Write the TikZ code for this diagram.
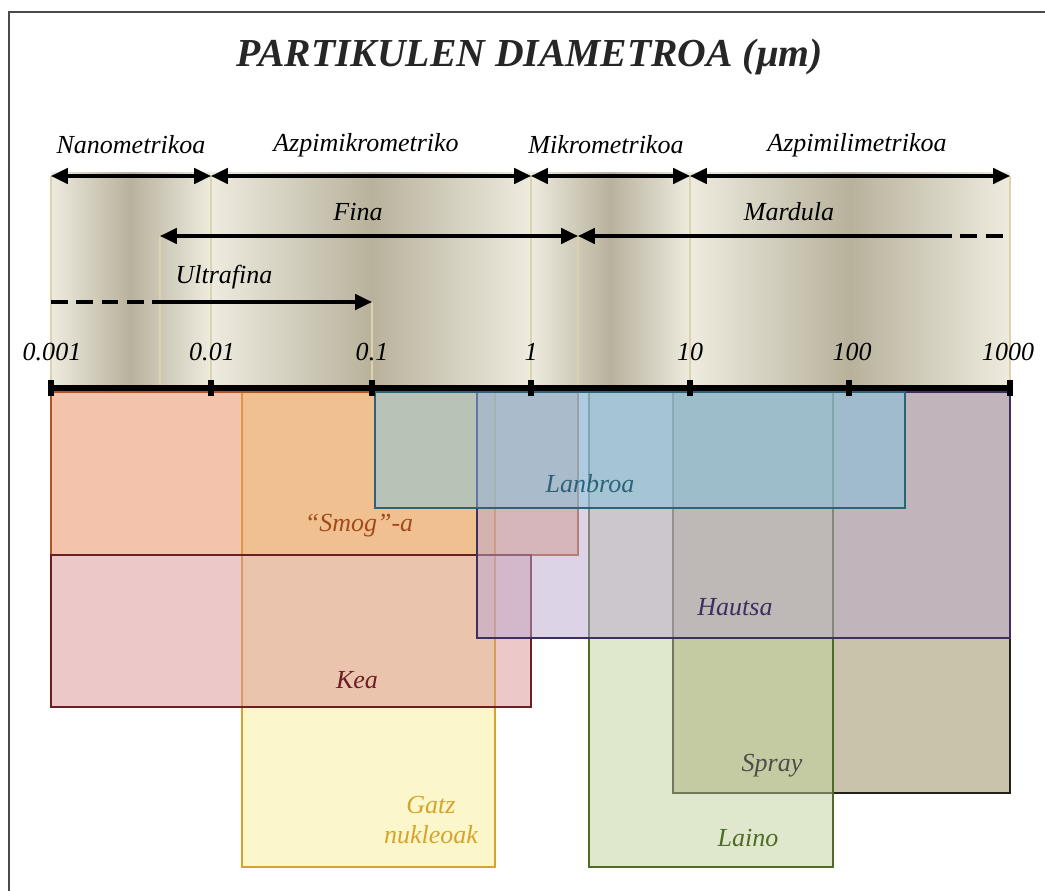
\documentclass[tikz,border=0pt]{standalone}
\usepackage{fontspec}
\setmainfont{Liberation Serif}
\usetikzlibrary{arrows.meta}

\definecolor{framegray}{HTML}{4A4A4A}
\definecolor{bandlight}{HTML}{EEEBDF}
\definecolor{banddark}{HTML}{B8B29C}
\definecolor{bandline}{HTML}{DCD3AE}
\definecolor{gatzfill}{HTML}{F7EF97}
\definecolor{gatzline}{HTML}{D6A42A}
\definecolor{smogfill}{HTML}{E78957}
\definecolor{smogline}{HTML}{B4541F}
\definecolor{keafill}{HTML}{DB9191}
\definecolor{kealine}{HTML}{6B1F24}
\definecolor{sprayfill}{HTML}{938757}
\definecolor{sprayline}{HTML}{22221A}
\definecolor{lainofill}{HTML}{BFD19B}
\definecolor{lainoline}{HTML}{4E6B27}
\definecolor{hautsafill}{HTML}{B9A7CD}
\definecolor{hautsaline}{HTML}{3D2F5E}
\definecolor{lanbroafill}{HTML}{80C4DE}
\definecolor{lanbroaline}{HTML}{2A6478}

\begin{document}
\begin{tikzpicture}[x=0.025cm,y=-0.025cm,
  lbl/.style={font=\fontsize{18.5}{21}\selectfont\itshape, inner sep=0pt},
  span/.style={line width=2.2pt},
  tip/.style={-{Triangle[length=12pt,width=11pt]}},
  tips/.style={{Triangle[length=12pt,width=11pt]}-{Triangle[length=12pt,width=11pt]}},
  guide/.style={draw=bandline, line width=1.3pt},
  box/.style={line width=1.6pt, fill opacity=0.5}]
\useasboundingbox (0,0) rectangle (1045,891);

% frame
\draw[framegray, line width=1.5pt] (9,891) -- (9,12) -- (1045,12);

\node[font=\fontsize{28.2}{32}\selectfont\bfseries\itshape, text=black!85] (title) at (530,57) {PARTIKULEN DIAMETROA (µm)};

% metallic band
\shade[left color=bandlight, right color=banddark] (51,173) rectangle (130,388);
\shade[left color=banddark, right color=bandlight] (130,173) rectangle (211,388);
\shade[left color=bandlight, right color=banddark] (211,173) rectangle (372,388);
\shade[left color=banddark, right color=bandlight] (372,173) rectangle (531,388);
\shade[left color=bandlight, right color=banddark] (531,173) rectangle (610,388);
\shade[left color=banddark, right color=bandlight] (610,173) rectangle (690,388);
\shade[left color=bandlight, right color=banddark] (690,173) rectangle (850,388);
\shade[left color=banddark, right color=bandlight] (850,173) rectangle (1010,388);

\foreach \x [count=\i from 0] in {51,211,372,531,690,849,1010} {
  \coordinate (a\i) at (\x,176);
  \coordinate (d\i) at (\x,388);
}
\coordinate (f0) at (160,236);
\coordinate (f1) at (578,236);
\coordinate (m0) at (935,236);
\coordinate (f2) at (1010,236);
\coordinate (u0) at (51,302);
\coordinate (u1) at (160,302);
\coordinate (u2) at (372,302);

% guide lines
\foreach \i in {0,1,3,4,6} \draw[guide] (a\i) -- (d\i);
\draw[guide] (f0) -- (160,388);
\draw[guide] (f1) -- (578,388);
\draw[guide] (u2) -- (d2);

% size classes
\node[lbl] (nano) at (131,145) {Nanometrikoa};
\node[lbl] (azpimik) at (366,145) {Azpimikrometriko};
\node[lbl] (mikro) at (606,145) {Mikrometrikoa};
\node[lbl] (azpimil) at (857,145) {Azpimilimetrikoa};
\draw[span,tips] (a0) -- (a1);
\draw[span,tips] (a1) -- (a3);
\draw[span,tips] (a3) -- (a4);
\draw[span,tips] (a4) -- (a6);

\node[lbl] (fina) at (358,212) {Fina};
\node[lbl] (mardula) at (789,212) {Mardula};
\draw[span,tips] (f0) -- (f1);
\draw[span,{Triangle[length=12pt,width=11pt]}-] (f1) -- (m0);
\draw[span,dash pattern=on 12pt off 6pt] (m0) -- (f2);

\node[lbl] (ultra) at (224,277) {Ultrafina};
\draw[span,dash pattern=on 12pt off 6pt] (u0) -- (u1);
\draw[span,tip] (u1) -- (u2);

% scale
\foreach \v/\x [count=\i from 0] in {0.001/52,0.01/212,0.1/372,1/531,10/690,100/852,1000/1008}
  \node[lbl] (v\i) at (\x,352) {\v};

% particle ranges
\draw[box, draw=gatzline, fill=gatzfill] (242,392) rectangle (495,867);
\draw[box, draw=smogline, fill=smogfill] (51,392) rectangle (578,555);
\draw[box, draw=kealine, fill=keafill] (51,555) rectangle (531,707);
\draw[box, draw=sprayline, fill=sprayfill] (673,392) rectangle (1010,793);
\draw[box, draw=lainoline, fill=lainofill] (589,392) rectangle (833,867);
\draw[box, draw=hautsaline, fill=hautsafill] (477,392) rectangle (1010,638);
\draw[box, draw=lanbroaline, fill=lanbroafill] (375,392) rectangle (905,508);

\node[lbl, text=smogline!90!black] (smog) at (359,526) {“Smog”-a};
\node[lbl, text=kealine] (kea) at (357,680) {Kea};
\node[lbl, text=gatzline, align=center] (gatz) at (431,820) {Gatz\\nukleoak};
\node[lbl, text=lanbroaline] (lanbroa) at (590,484) {Lanbroa};
\node[lbl, text=hautsaline] (hautsa) at (735,607) {Hautsa};
\node[lbl, text=sprayline!80] (spray) at (772,766) {Spray};
\node[lbl, text=lainoline] (laino) at (748,838) {Laino};

% axis
\draw[line width=4.5pt] (d0) -- (d6);
\foreach \i in {0,...,6} \fill (d\i) +(-3,-8) rectangle +(3,8);
\end{tikzpicture}
\end{document}
